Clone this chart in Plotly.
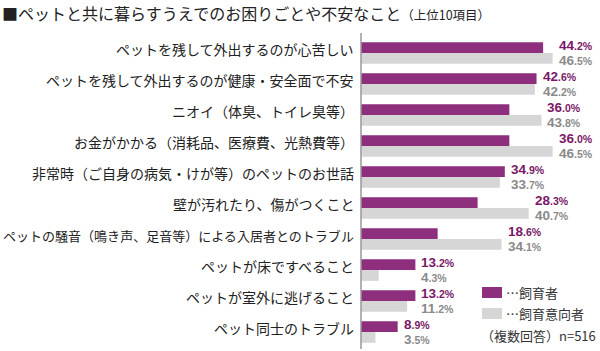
import plotly.graph_objects as go

categories = [
    "ペットを残して外出するのが心苦しい",
    "ペットを残して外出するのが健康・安全面で不安",
    "ニオイ（体臭、トイレ臭等）",
    "お金がかかる（消耗品、医療費、光熱費等）",
    "非常時（ご自身の病気・けが等）のペットのお世話",
    "壁が汚れたり、傷がつくこと",
    "ペットの騒音（鳴き声、足音等）による入居者とのトラブル",
    "ペットが床ですべること",
    "ペットが室外に逃げること",
    "ペット同士のトラブル",
]
owners = [44.2, 42.6, 36.0, 36.0, 34.9, 28.3, 18.6, 13.2, 13.2, 8.9]
prospective = [46.5, 42.2, 43.8, 46.5, 33.7, 40.7, 34.1, 4.3, 11.2, 3.5]
series_names = ["…飼育者", "…飼育意向者"]
title_main = "■ペットと共に暮らすうえでのお困りごとや不安なこと"
title_sub = "（上位10項目）"
note = "（複数回答）n=516"

PURPLE = "#8E2F7E"
PURPLE_TXT = "#7A1766"
GRAY = "#D6D6D6"
GRAY_TXT = "#8A8A8A"
JP = "Noto Sans CJK JP"

W, H = 600, 351
ML, MR, MT, MB = 361, 0, 36, 2
PW, PH = W - ML - MR, H - MT - MB

def px(x):
    return (x - ML) / PW

def py(y):
    return (H - MB - y) / PH

fig = go.Figure()
fig.add_trace(go.Bar(y=categories, x=owners, orientation="h", name=series_names[0],
                     marker=dict(color=PURPLE, line=dict(width=0))))
fig.add_trace(go.Bar(y=categories, x=prospective, orientation="h", name=series_names[1],
                     marker=dict(color=GRAY, line=dict(width=0))))

def lab(v, color):
    s = f"{v:.1f}"
    a, b = s.split(".")
    return (f"<b><span style='font-size:13.5px;color:{color}'>{a}</span></b>"
            f"<b><span style='font-size:10.5px;color:{color}'>.{b}%</span></b>")

ann = []
for c, v1, v2 in zip(categories, owners, prospective):
    m = max(v1, v2)
    ann.append(dict(x=m, y=c, xref="x", yref="y",
                    text=lab(v1, PURPLE_TXT) + "<br>" + lab(v2, GRAY_TXT),
                    showarrow=False, align="left",
                    xanchor="left", yanchor="middle", xshift=4, yshift=0,
                    font=dict(family="Liberation Sans, Arial", size=11.2, color=PURPLE_TXT)))
    # category label
    size = 14 if len(c) * 14 <= 352 else 352 / len(c)
    ann.append(dict(x=0, y=c, xref="paper", yref="y", text=c, showarrow=False,
                    xanchor="right", yanchor="middle", xshift=-5, yshift=4,
                    font=dict(family=JP, size=size, color="#222222")))

# title
ann.append(dict(x=0, y=1, xref="paper", yref="paper", xanchor="left", yanchor="middle",
                xshift=-ML, yshift=MT - 13, showarrow=False,
                text=f"{title_main}<span style='font-size:12.5px'>{title_sub}</span>",
                font=dict(family=JP, size=16, color="#222222")))

# legend texts
ann.append(dict(x=px(504), y=py(292.5), xref="paper", yref="paper", xanchor="left", yanchor="middle",
                showarrow=False, text=series_names[0], font=dict(family=JP, size=13, color="#333333")))
ann.append(dict(x=px(504), y=py(313), xref="paper", yref="paper", xanchor="left", yanchor="middle",
                showarrow=False, text=series_names[1], font=dict(family=JP, size=13, color="#333333")))
ann.append(dict(x=px(479), y=py(335), xref="paper", yref="paper", xanchor="left", yanchor="middle",
                showarrow=False, text=note, font=dict(family=JP, size=13, color="#333333")))

shapes = [
    dict(type="rect", xref="paper", yref="paper", x0=px(482), x1=px(502), y0=py(298), y1=py(287),
         fillcolor=PURPLE, line=dict(width=0)),
    dict(type="rect", xref="paper", yref="paper", x0=px(482), x1=px(502), y0=py(319), y1=py(308),
         fillcolor=GRAY, line=dict(width=0)),
    dict(type="line", xref="paper", yref="paper", x0=0, x1=0, y0=py(349), y1=py(33),
         line=dict(color="#999999", width=1.5)),
]

fig.update_layout(
    width=W, height=H,
    margin=dict(l=ML, r=MR, t=MT, b=MB, pad=0),
    barmode="group", bargap=0.3, bargroupgap=0.0,
    plot_bgcolor="white", paper_bgcolor="white",
    showlegend=False,
    annotations=ann, shapes=shapes,
    xaxis=dict(range=[0, 58], visible=False, fixedrange=True),
    yaxis=dict(autorange="reversed", showgrid=False, zeroline=False, showline=False,
               showticklabels=False, ticks=""),
)
fig.write_html("out.html")
